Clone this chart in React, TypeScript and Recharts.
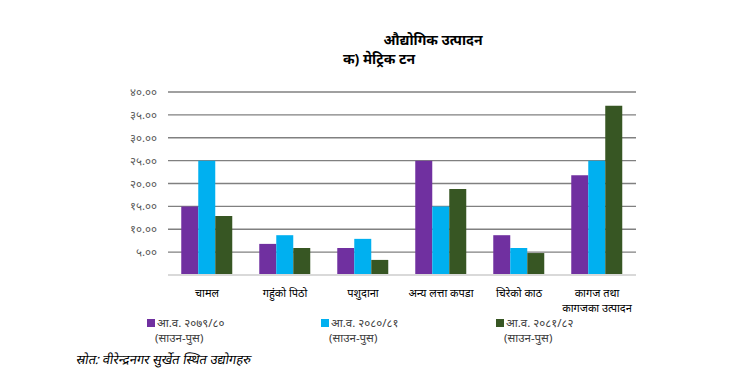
import { BarChart, Bar, XAxis, YAxis, CartesianGrid } from "recharts";

const categories = [
  "चामल",
  "गहुंको पिठो",
  "पशुदाना",
  "अन्य लत्ता कपडा",
  "चिरेको काठ",
  "कागज तथा\nकागजका उत्पादन",
];
const fy7980 = [15.0, 6.8, 5.9, 25.0, 8.7, 21.8];
const fy8081 = [25.0, 8.7, 7.9, 15.0, 5.9, 25.0];
const fy8182 = [12.9, 5.9, 3.3, 18.8, 4.8, 37.0];
const yTicks = [5, 10, 15, 20, 25, 30, 35, 40];

const seriesInfo = [
  { key: "fy7980", label: "आ.व. २०७९/८०", sub: "(साउन-पुस)", color: "#7030a0" },
  { key: "fy8081", label: "आ.व. २०८०/८१", sub: "(साउन-पुस)", color: "#00b0f0" },
  { key: "fy8182", label: "आ.व. २०८१/८२", sub: "(साउन-पुस)", color: "#375623" },
];

const data = categories.map((name, i) => ({
  name,
  fy7980: fy7980[i],
  fy8081: fy8081[i],
  fy8182: fy8182[i],
}));

const devDigits = "०१२३४५६७८९";
const toDev = (s: string) => s.replace(/[0-9]/g, (d) => devDigits[Number(d)]);

const FONT = "'Noto Sans', sans-serif";

function CatTick({ x, y, payload }: any) {
  const lines = String(payload.value).split("\n");
  return (
    <text x={x} y={y + 14} textAnchor="middle" fontSize={11} fill="#000" fontFamily={FONT}>
      {lines.map((l, i) => (
        <tspan key={i} x={x} dy={i === 0 ? 0 : 15}>
          {l}
        </tspan>
      ))}
    </text>
  );
}

function LegendBox() {
  const xs = [147, 321, 496];
  return (
    <div style={{ position: "absolute", left: 0, top: 315, width: 736, height: 40 }}>
      {seriesInfo.map((s, i) => (
        <div key={s.key} style={{ position: "absolute", left: xs[i], top: 0, fontSize: 11.5, color: "#404040", lineHeight: "15px" }}>
          <span style={{ display: "inline-block", width: 8, height: 8, background: s.color, marginRight: 2 }} />
          {s.label}
          <div style={{ paddingLeft: 8 }}>{s.sub}</div>
        </div>
      ))}
    </div>
  );
}

export default function App() {
  return (
    <div style={{ position: "absolute", left: 0, top: 0, width: 736, height: 376, background: "#fff", fontFamily: FONT }}>
      <div style={{ position: "absolute", left: 0, width: 736, top: 30, textAlign: "center", fontWeight: 700, fontSize: 14, lineHeight: "19px" }}>
        <div style={{ paddingLeft: 130 }}>औद्योगिक उत्पादन</div>
        <div style={{ paddingLeft: 22 }}>क) मेट्रिक टन</div>
      </div>
      <BarChart
        width={736}
        height={376}
        data={data}
        margin={{ top: 92, right: 100, bottom: 71, left: 108 }}
        barGap={0}
        barCategoryGap="17%"
      >
        <CartesianGrid vertical={false} stroke="#808080" strokeWidth={1.3} />
        <XAxis
          dataKey="name"
          height={30}
          tickLine={false}
          axisLine={{ stroke: "#d9d9d9", strokeWidth: 2 }}
          tick={<CatTick />}
          interval={0}
        />
        <YAxis
          width={60}
          domain={[0, 40]}
          ticks={yTicks}
          interval={0}
          axisLine={false}
          tickLine={false}
          tickMargin={5}
          tick={{ fontSize: 11.5, fill: "#595959", fontFamily: FONT }}
          tickFormatter={(v: number) => toDev(v.toFixed(2))}
        />
        {seriesInfo.map((s) => (
          <Bar key={s.key} dataKey={s.key} name={s.label} fill={s.color} isAnimationActive={false} />
        ))}
      </BarChart>
      <LegendBox />
      <div style={{ position: "absolute", left: 75, top: 350, fontSize: 13, fontStyle: "italic", transform: "skewX(-10deg)", transformOrigin: "left bottom", color: "#000" }}>
        स्रोत: वीरेन्द्रनगर सुर्खेत स्थित उद्योगहरु
      </div>
    </div>
  );
}
